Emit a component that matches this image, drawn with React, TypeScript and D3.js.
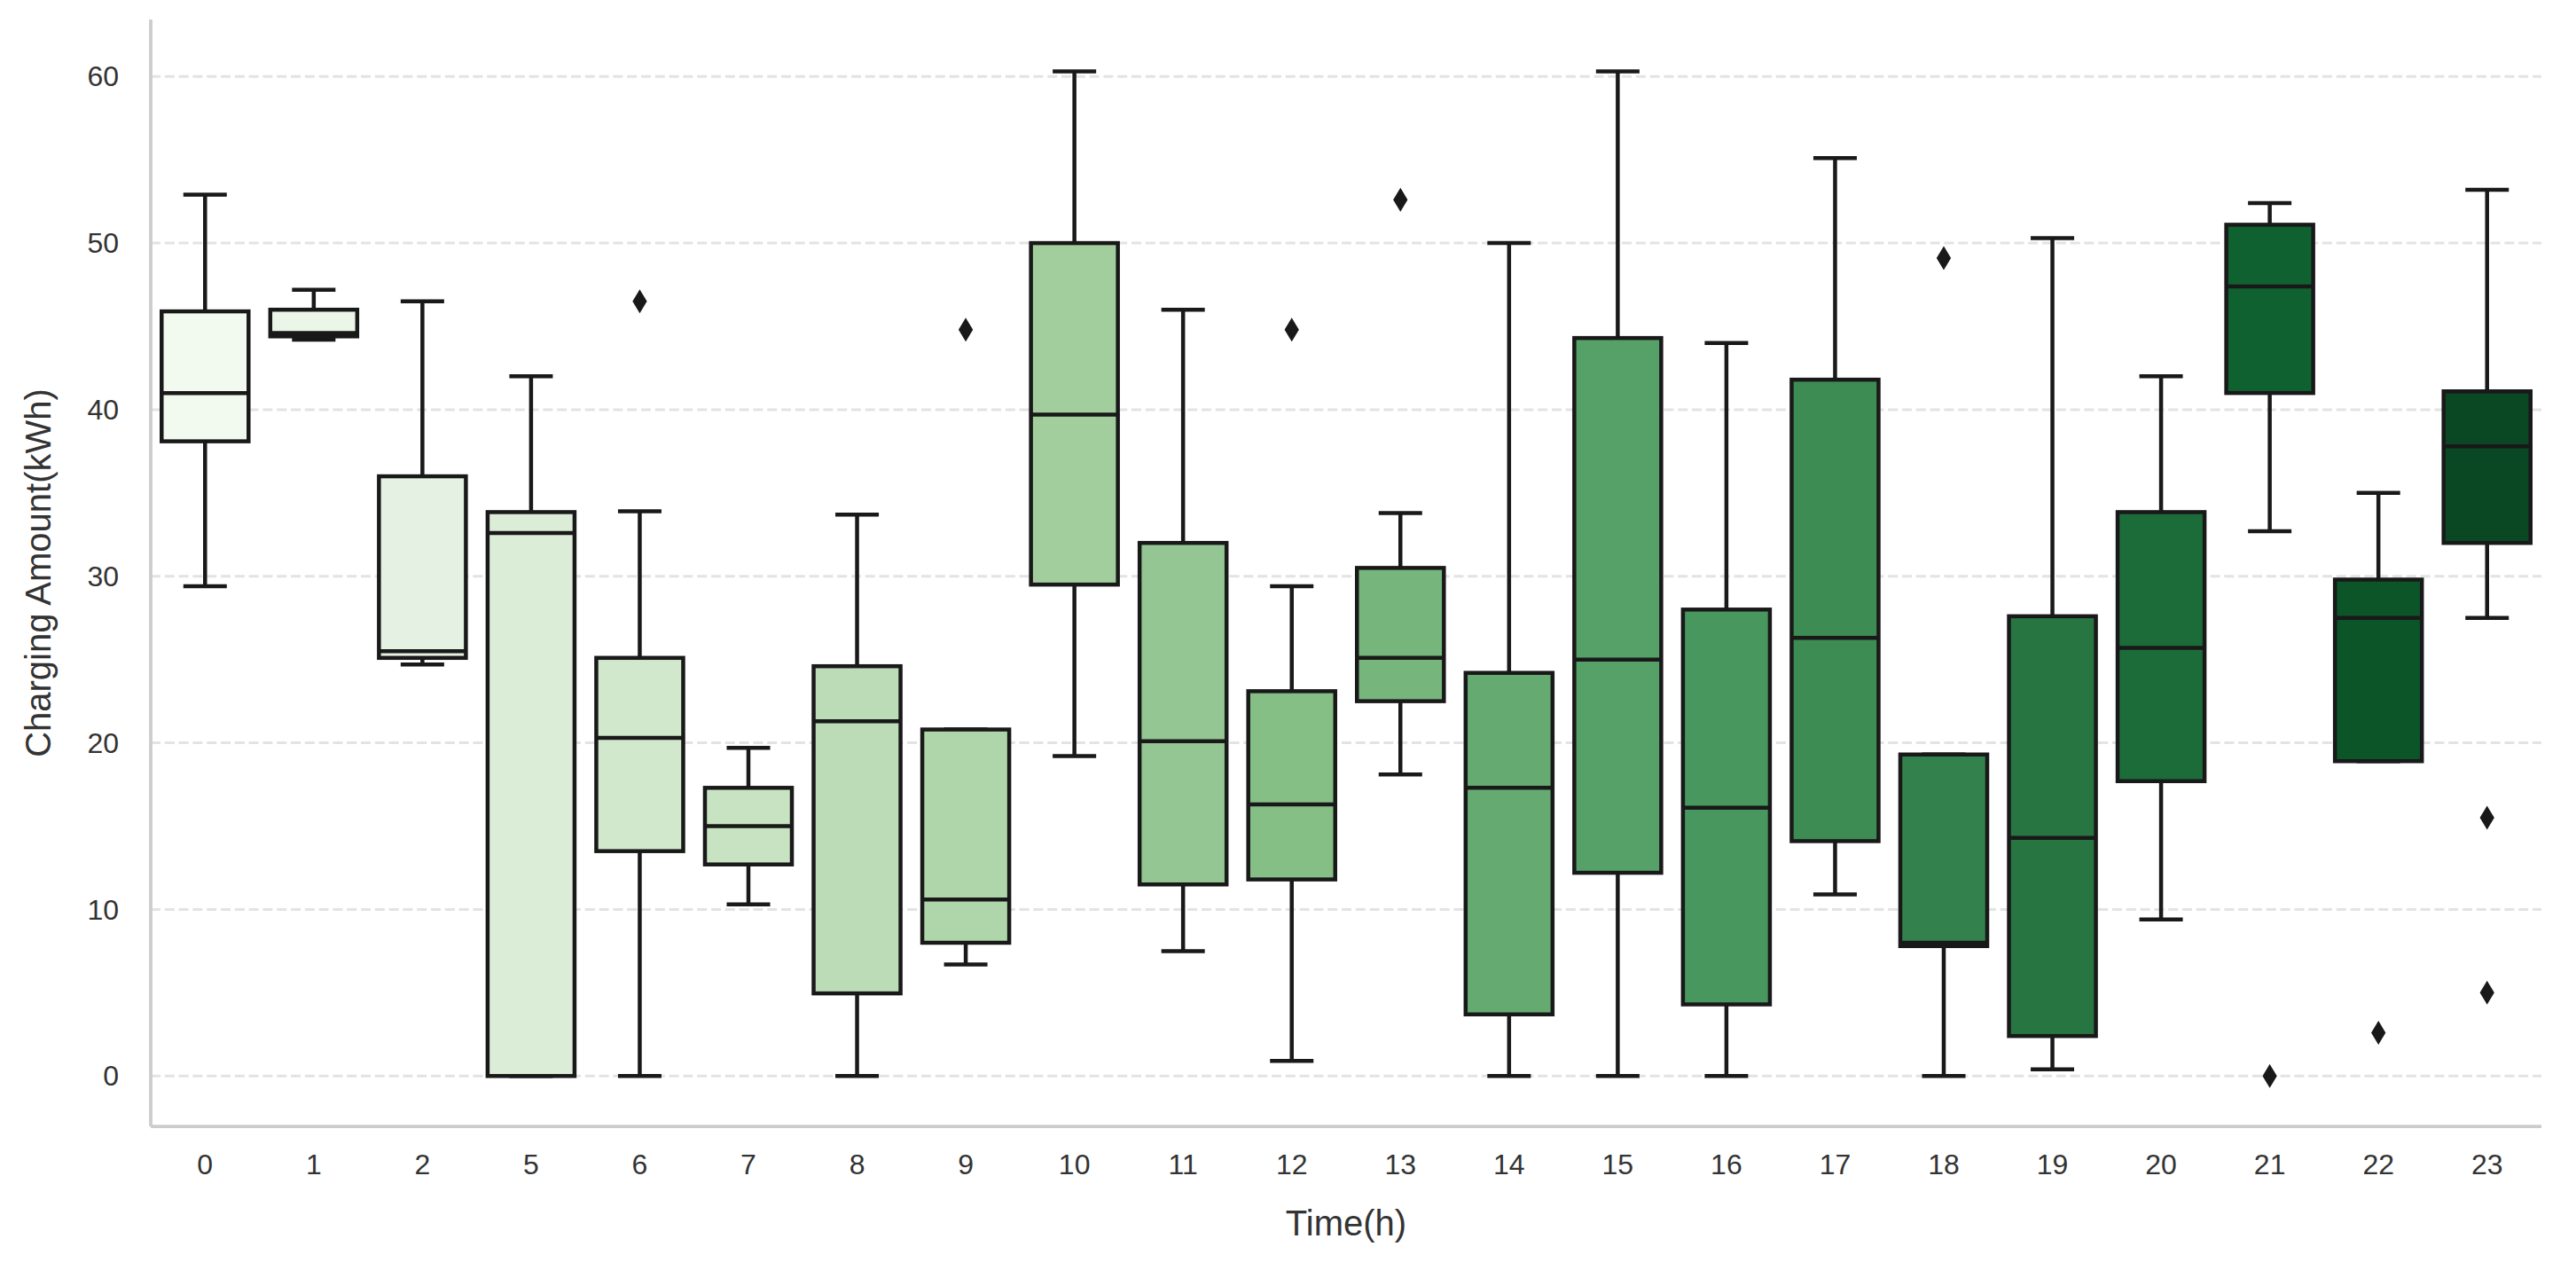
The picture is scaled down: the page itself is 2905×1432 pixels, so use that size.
import * as d3 from "d3";

const hours = ["0", "1", "2", "5", "6", "7", "8", "9", "10", "11", "12", "13", "14", "15", "16", "17", "18", "19", "20", "21", "22", "23"];
const whiskerLow = [29.4, 44.2, 24.7, 0, 0, 10.3, 0, 6.7, 19.2, 7.5, 0.9, 18.1, 0, 0, 0, 10.9, 0, 0.4, 9.4, 32.7, 18.9, 27.5];
const q1 = [38.1, 44.4, 25.1, 0, 13.5, 12.7, 4.96, 8.0, 29.5, 11.5, 11.8, 22.5, 3.7, 12.2, 4.3, 14.1, 7.8, 2.4, 17.7, 41.0, 18.9, 32.0];
const median = [41.0, 44.6, 25.5, 32.6, 20.3, 15.0, 21.3, 10.6, 39.7, 20.1, 16.3, 25.1, 17.3, 25.0, 16.1, 26.3, 8.0, 14.3, 25.7, 47.4, 27.5, 37.8];
const q3 = [45.9, 46.0, 36.0, 33.85, 25.1, 17.3, 24.6, 20.8, 50.0, 32.0, 23.1, 30.5, 24.2, 44.3, 28.0, 41.8, 19.3, 27.6, 33.85, 51.1, 29.8, 41.1];
const whiskerHigh = [52.9, 47.2, 46.5, 42.0, 33.9, 19.7, 33.7, 20.8, 60.3, 46.0, 29.4, 33.8, 50.0, 60.3, 44.0, 55.1, 19.3, 50.3, 42.0, 52.4, 35.0, 53.2];
const outliers: number[][] = [[], [], [], [], [46.5], [], [], [44.8], [], [], [44.8], [52.6], [], [], [], [], [49.1], [], [], [0], [2.6], [15.5, 5.0]];
const yTicks = [0, 10, 20, 30, 40, 50, 60];

const W = 2905;
const H = 1432;
const left = 170;
const right = 2866;
const top = 22;
const bottom = 1270;
const lineColor = "#191919";
const font = "'Liberation Sans', Arial, sans-serif";

// seaborn "Greens" palette, sampled like color_palette("Greens", n) and desaturated to 0.75
const greens = d3.scaleLinear<string>()
  .domain(d3.range(9).map(i => i / 8))
  .range(d3.schemeGreens[9] as string[])
  .interpolate(d3.interpolateRgb);

function boxColor(i: number) {
  const c = d3.hsl(greens((i + 1) / (hours.length + 1)));
  c.s *= 0.75;
  return c.formatHex();
}

export default function App() {
  const x = d3.scaleBand().domain(hours).range([left, right]).paddingInner(0.2).paddingOuter(0.1);
  const y = d3.scaleLinear().domain([-3.02, 63.42]).range([bottom, top]);
  const bw = x.bandwidth();
  const dh = 10.6;
  const dw = 6.4;

  return (
    <svg width={W} height={H} style={{ display: "block", background: "#fff" }}>
      <style>{`body{margin:0}`}</style>
      <g>
        {yTicks.map(t => (
          <line key={t} x1={left} x2={right} y1={y(t)} y2={y(t)}
            stroke="#e3e3e3" strokeWidth={3} strokeDasharray="11 4.8" />
        ))}
      </g>
      <g>
        {hours.map((h, i) => {
          const x0 = x(h)!;
          const cx = x0 + bw / 2;
          return (
            <g key={h}>
              <line x1={cx} x2={cx} y1={y(q3[i])} y2={y(whiskerHigh[i])} stroke={lineColor} strokeWidth={4.5} />
              <line x1={cx} x2={cx} y1={y(q1[i])} y2={y(whiskerLow[i])} stroke={lineColor} strokeWidth={4.5} />
              <line x1={cx - bw / 4} x2={cx + bw / 4} y1={y(whiskerHigh[i])} y2={y(whiskerHigh[i])} stroke={lineColor} strokeWidth={4.5} />
              <line x1={cx - bw / 4} x2={cx + bw / 4} y1={y(whiskerLow[i])} y2={y(whiskerLow[i])} stroke={lineColor} strokeWidth={4.5} />
              <rect x={x0} width={bw} y={y(q3[i])} height={y(q1[i]) - y(q3[i])}
                fill={boxColor(i)} stroke={lineColor} strokeWidth={4.5} />
              <line x1={x0} x2={x0 + bw} y1={y(median[i])} y2={y(median[i])} stroke={lineColor} strokeWidth={4.5} />
              {outliers[i].map((v, j) => (
                <path key={j}
                  d={`M${cx},${y(v) - dh}L${cx + dw},${y(v)}L${cx},${y(v) + dh}L${cx - dw},${y(v)}Z`}
                  fill={lineColor} stroke={lineColor} strokeWidth={3} />
              ))}
            </g>
          );
        })}
      </g>
      <line x1={left} x2={left} y1={top} y2={bottom} stroke="#cccccc" strokeWidth={3.75} />
      <line x1={left} x2={right} y1={bottom} y2={bottom} stroke="#cccccc" strokeWidth={3.75} />
      <g fontFamily={font} fontSize={32} fill="#333">
        {yTicks.map(t => (
          <text key={t} x={134} y={y(t)} dy="0.35em" textAnchor="end">{t}</text>
        ))}
        {hours.map(h => (
          <text key={h} x={x(h)! + bw / 2} y={1324} textAnchor="middle">{h}</text>
        ))}
      </g>
      <text x={(left + right) / 2} y={1393} textAnchor="middle" fontFamily={font} fontSize={40} fill="#333">Time(h)</text>
      <text transform={`translate(57,${(top + bottom) / 2}) rotate(-90)`} textAnchor="middle"
        fontFamily={font} fontSize={40} fill="#333">Charging Amount(kWh)</text>
    </svg>
  );
}
